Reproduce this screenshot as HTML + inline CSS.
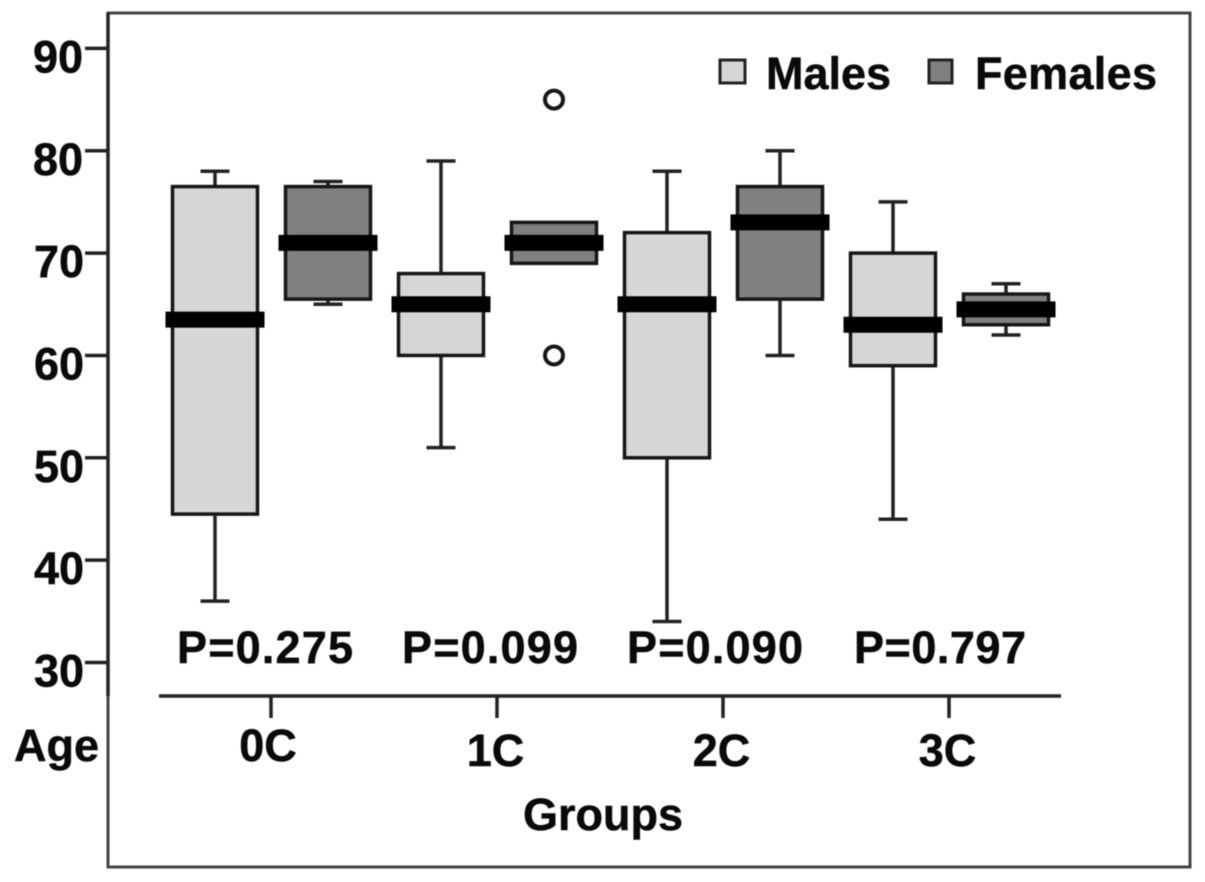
<!DOCTYPE html>
<html>
<head>
<meta charset="utf-8">
<title>Age by group and sex</title>
<style>
html,body{margin:0;padding:0;background:#fff;width:1205px;height:882px;overflow:hidden}
svg{display:block;filter:blur(0.5px)}
text{font-family:"Liberation Sans",Arial,sans-serif;font-weight:bold;font-size:45px;fill:#0a0a0a;stroke:#0a0a0a;stroke-width:0.5px}
</style>
</head>
<body>
<svg id="chart" xmlns="http://www.w3.org/2000/svg" width="1205" height="882" viewBox="0 0 1205 882"></svg>
<script>
const groups = ['0C', '1C', '2C', '3C'];
const pValues = ['P=0.275', 'P=0.099', 'P=0.090', 'P=0.797'];
const yTicks = [30, 40, 50, 60, 70, 80, 90];
const maleLow = [36, 51, 34, 44];
const maleQ1 = [44.5, 60, 50, 59];
const maleMedian = [63.5, 65, 65, 63];
const maleQ3 = [76.5, 68, 72, 70];
const maleHigh = [78, 79, 78, 75];
const femaleLow = [65, 69, 60, 62];
const femaleQ1 = [65.5, 69, 65.5, 63];
const femaleMedian = [71, 71, 73, 64.5];
const femaleQ3 = [76.5, 73, 76.5, 66];
const femaleHigh = [77, 73, 80, 67];
const femaleOutliers = [[], [85, 60], [], []];

const svg = document.getElementById('chart');
const NS = 'http://www.w3.org/2000/svg';
const INK = '#222';
function y(v) { return 662.5 - (v - 30) * 10.235; }
function x(i) { return 271 + i * 226; }
function add(parent, tag, attrs, text) {
  const el = document.createElementNS(NS, tag);
  for (const k in attrs) el.setAttribute(k, attrs[k]);
  if (text !== undefined) el.textContent = text;
  parent.appendChild(el);
  return el;
}

const frame = add(svg, 'rect', {x: 108, y: 13, width: 1082, height: 854, fill: '#fff', stroke: '#444', 'stroke-width': 3});



const yAxis = add(svg, 'g', {});


add(yAxis, 'line', {x1: 108, x2: 108, y1: 13, y2: 696, stroke: '#222', 'stroke-width': 3.5});
yTicks.forEach(t => {
  const tick = add(yAxis, 'line', {x1: 85, x2: 108, y1: y(t), y2: y(t), stroke: '#222', 'stroke-width': 3.5});
  
  
  const label = add(yAxis, 'text', {x: t <= 70 ? 84 : 83, y: y(t) + 24, 'text-anchor': 'end'}, t);
  
  
});
const yTitle = add(yAxis, 'text', {x: 14, y: 761}, 'Age');



const xAxis = add(svg, 'g', {});


add(xAxis, 'line', {x1: 159, x2: 1061, y1: 696, y2: 696, stroke: '#222', 'stroke-width': 3.5});
groups.forEach((g, i) => {
  const tick = add(xAxis, 'line', {x1: x(i), x2: x(i), y1: 696, y2: 718, stroke: '#222', 'stroke-width': 3.5});
  
  
  const label = add(xAxis, 'text', {x: x(i) - (i ? 1.5 : 3), y: i ? 766 : 761, 'text-anchor': 'middle'}, g);
  
  
  const p = add(svg, 'text', {x: x(i) - 6 - i, y: 663, 'text-anchor': 'middle', textLength: i === 3 ? 172 : 176, lengthAdjust: 'spacing'}, pValues[i]);
  
  
});
const xTitle = add(xAxis, 'text', {x: 603, y: 830, 'text-anchor': 'middle'}, 'Groups');



function drawBox(cx, low, q1, med, q3, high, fill) {
  const g = add(svg, 'g', {});
  
  
  const stem = {stroke: INK, 'stroke-width': 3.5};
  if (high > q3) {
    add(g, 'line', {x1: cx, x2: cx, y1: y(high), y2: y(q3), ...stem});
    add(g, 'line', {x1: cx - 14.5, x2: cx + 14.5, y1: y(high), y2: y(high), ...stem});
  }
  if (low < q1) {
    add(g, 'line', {x1: cx, x2: cx, y1: y(q1), y2: y(low), ...stem});
    add(g, 'line', {x1: cx - 14.5, x2: cx + 14.5, y1: y(low), y2: y(low), ...stem});
  }
  add(g, 'rect', {x: cx - 42.5, y: y(q3), width: 85, height: y(q1) - y(q3), fill: fill, stroke: '#161616', 'stroke-width': 3.5});
  add(g, 'rect', {x: cx - 49.5, y: y(med) - 8, width: 99, height: 16, fill: '#000'});
}
groups.forEach((g, i) => {
  drawBox(x(i) - 56, maleLow[i], maleQ1[i], maleMedian[i], maleQ3[i], maleHigh[i], '#d6d6d6');
  drawBox(x(i) + 57, femaleLow[i], femaleQ1[i], femaleMedian[i], femaleQ3[i], femaleHigh[i], '#808080');
  femaleOutliers[i].forEach(v => {
    const c = add(svg, 'circle', {cx: x(i) + 57, cy: y(v), r: 9, fill: '#fff', stroke: '#161616', 'stroke-width': 4});
    
    
  });
});
</script>
<svg style="position:absolute;left:0;top:0" xmlns="http://www.w3.org/2000/svg" width="1205" height="882" viewBox="0 0 1205 882">
  <rect x="720" y="60" width="25" height="23" fill="#d6d6d6" stroke="#222" stroke-width="3"/>
  <text x="766" y="89" textLength="125" lengthAdjust="spacing">Males</text>
  <rect x="929" y="60" width="23" height="23" fill="#808080" stroke="#222" stroke-width="3"/>
  <text x="975" y="89" textLength="182" lengthAdjust="spacing">Females</text>
</svg>
</body>
</html>
